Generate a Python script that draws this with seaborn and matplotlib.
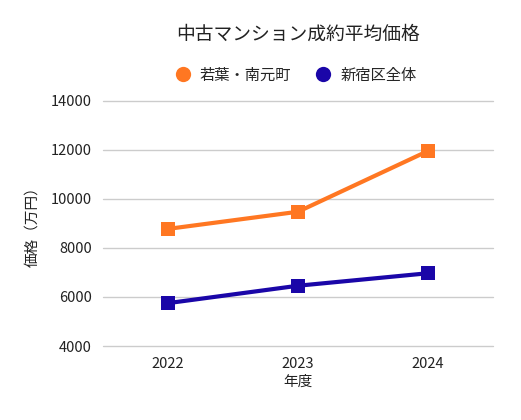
import numpy as np
import pandas as pd
import matplotlib
matplotlib.use('Agg')
import matplotlib.pyplot as plt
import seaborn as sns
from matplotlib.lines import Line2D

# data
years = ['2022', '2023', '2024']
series_names = ['若葉・南元町', '新宿区全体']
wakaba = [8780, 9480, 11960]
shinjuku = [5750, 6460, 6970]
colors = ['#ff7722', '#1a06a8']

df = pd.DataFrame({
    '年度': years * 2,
    '価格': wakaba + shinjuku,
    'area': [series_names[0]] * 3 + [series_names[1]] * 3,
})

sns.set_style('white')
plt.rcParams['font.family'] = ['Noto Sans CJK JP', 'DejaVu Sans']

fig = plt.figure(figsize=(5.21, 4.2), dpi=100)
ax = fig.add_axes([103 / 521, 1 - 346 / 420, 390 / 521, 245 / 420])

sns.lineplot(data=df, x='年度', y='価格', hue='area', palette=colors,
             marker='s', markersize=9.5, markeredgewidth=0, linewidth=3,
             sort=False, ax=ax, legend=False)

ax.set_xlim(-0.5, 2.5)
ax.set_ylim(4000, 14000)
ax.set_yticks(np.arange(4000, 14001, 2000))
ax.yaxis.grid(True, color='#cccccc', linewidth=1)
for gl in ax.get_ygridlines():
    gl.set_clip_on(False)
ax.set_axisbelow(True)
for s in ax.spines.values():
    s.set_visible(False)
ax.tick_params(axis='both', length=0, labelsize=10.5, colors='#222222', pad=8)
ax.set_xlabel('年度', fontsize=10.5, color='#222222', labelpad=3)
ax.set_ylabel('価格（万円）', fontsize=10.5, color='#222222', labelpad=8)

fig.text(298 / 521, 1 - 34 / 420, '中古マンション成約平均価格', ha='center', va='center',
         fontsize=13.5, color='#222222')

handles = [Line2D([0], [0], marker='o', linestyle='none', markersize=11,
                  markerfacecolor=c, markeredgewidth=0) for c in colors]
fig.legend(handles, series_names, loc='center', bbox_to_anchor=(292 / 521, 1 - 75 / 420),
           ncol=2, frameon=False, fontsize=11, handletextpad=0.1, columnspacing=1.1)

fig.savefig('out.png', dpi=100, facecolor='white')
